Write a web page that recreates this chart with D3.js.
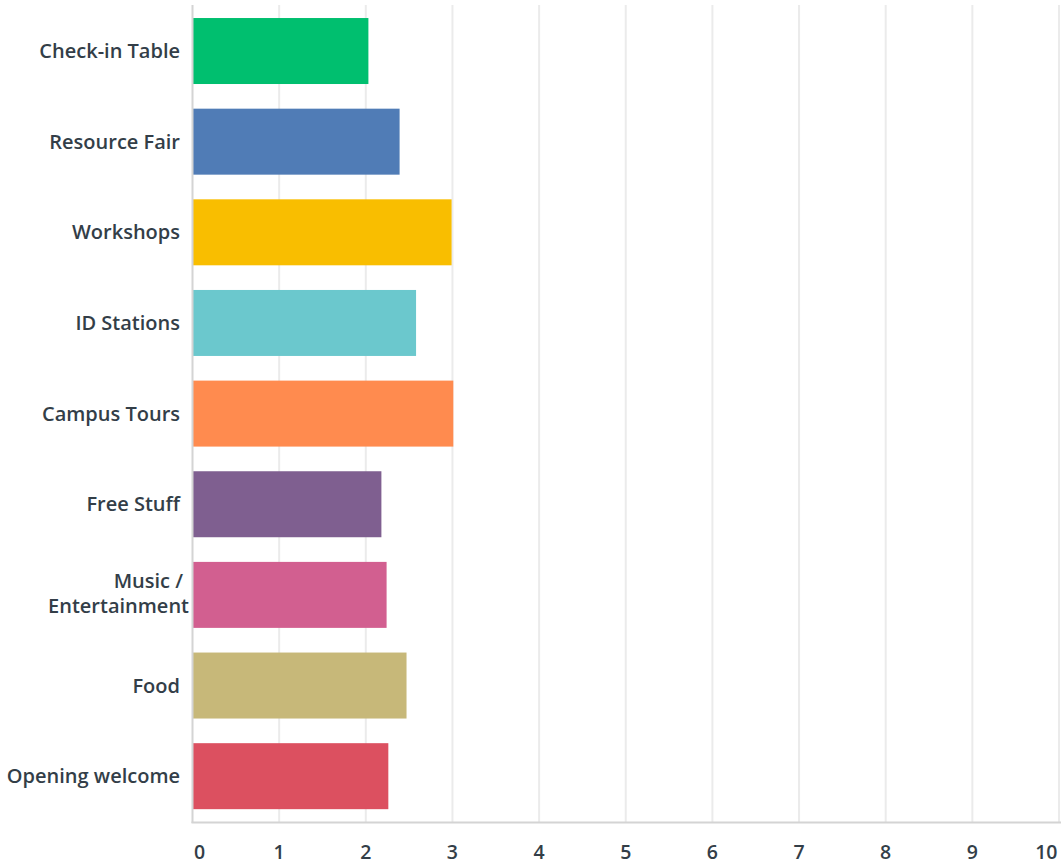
<!DOCTYPE html>
<html><head><meta charset="utf-8">
<script src="https://cdn.jsdelivr.net/npm/d3@7"></script>
<style>body{margin:0;background:#fff;} svg{display:block;}</style>
</head><body><svg id="c" width="1062" height="865"></svg>
<script>
const categories = ["Check-in Table","Resource Fair","Workshops","ID Stations","Campus Tours","Free Stuff","Music / Entertainment","Food","Opening welcome"];
const values = [2.03, 2.39, 2.99, 2.58, 3.01, 2.18, 2.24, 2.47, 2.26];
const colors = ["#00bf6f","#507cb6","#f9be00","#6bc8cd","#ff8b4f","#7f5f90","#d25f90","#c7b879","#dc5060"];
const tickValues = [0,1,2,3,4,5,6,7,8,9,10];

const svg = d3.select("#c");
const x = d3.scaleLinear().domain([0,10]).range([192.5, 1059]);
const y = d3.scaleBand().domain(categories).range([5.7, 821.5]).paddingInner(0.272).paddingOuter(0.136);
const font = "'Open Sans', sans-serif";
const textColor = "#333e48";

// gridlines
svg.append("g").selectAll("line").data(tickValues.slice(1)).join("line")
  .attr("x1", d=>x(d)).attr("x2", d=>x(d)).attr("y1", 5).attr("y2", 822)
  .attr("stroke", "#ebebeb").attr("stroke-width", 2);

// bars
svg.append("g").selectAll("rect").data(categories).join("rect")
  .attr("x", x(0)).attr("y", d=>y(d))
  .attr("width", (d,i)=>x(values[i])-x(0)).attr("height", y.bandwidth())
  .attr("fill", (d,i)=>colors[i]);

// axes lines
svg.append("line").attr("x1", x(0)).attr("x2", x(0)).attr("y1", 5).attr("y2", 823)
  .attr("stroke", "#d4d4d4").attr("stroke-width", 2);
svg.append("line").attr("x1", x(0)-1).attr("x2", 1061).attr("y1", 822.5).attr("y2", 822.5)
  .attr("stroke", "#d4d4d4").attr("stroke-width", 2);

// x tick labels
svg.append("g").selectAll("text").data(tickValues).join("text")
  .attr("x", d=> d===0 ? x(d)+1.5 : d===10 ? x(d)-1.5 : x(d))
  .attr("y", 859)
  .attr("text-anchor", d=> d===0 ? "start" : d===10 ? "end" : "middle")
  .attr("font-family", font).attr("font-weight", 600).attr("font-size", 19.5)
  .attr("fill", textColor).text(d=>d);

// y labels
const yl = svg.append("g").selectAll("text").data(categories).join("text")
  .attr("text-anchor", "end")
  .attr("font-family", font).attr("font-weight", 600).attr("font-size", 20)
  .attr("fill", textColor);
yl.each(function(d){
  const t = d3.select(this);
  const cy = y(d) + y.bandwidth()/2;
  if (d === "Music / Entertainment") {
    t.append("tspan").attr("x", 183).attr("y", cy - 7).text("Music /");
    t.append("tspan").attr("x", 189).attr("y", cy + 18).text("Entertainment");
  } else {
    t.append("tspan").attr("x", 180).attr("y", cy + 7).text(d);
  }
});
</script></body></html>
